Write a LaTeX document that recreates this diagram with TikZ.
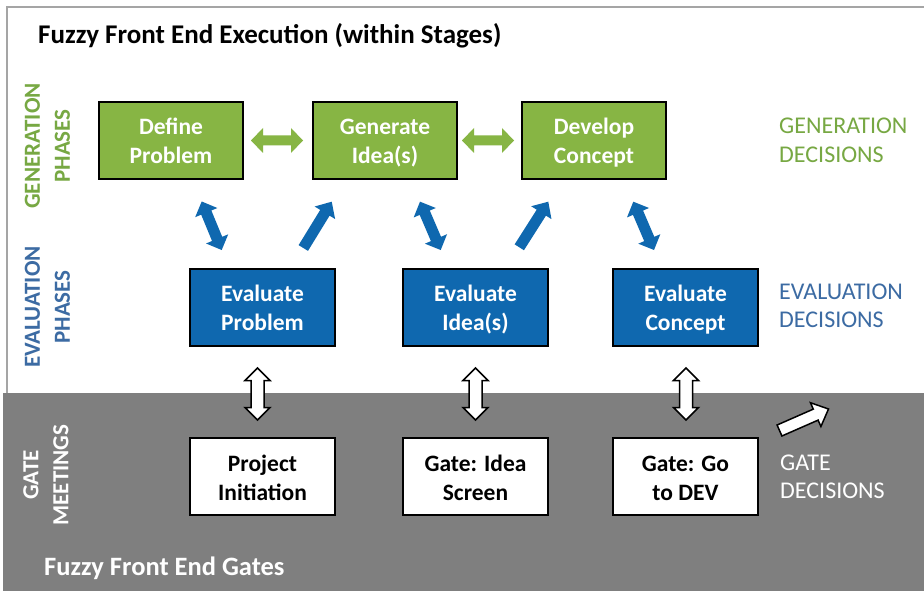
\documentclass[tikz,border=0pt]{standalone}
\usepackage{fontspec}
\setmainfont{Carlito}
\usetikzlibrary{calc}
\definecolor{gfill}{HTML}{87B544}
\definecolor{gtext}{HTML}{77A843}
\definecolor{bfill}{HTML}{0F68AF}
\definecolor{btext}{HTML}{3C6BA3}
\definecolor{gatebg}{HTML}{7F7F7F}
\definecolor{framec}{HTML}{A5A5A5}
\newcommand\myboxfont{\fontsize{23.5}{29}\selectfont\bfseries}
\newcommand\mysidefont{\fontsize{24}{28.5}\selectfont}
\newcommand\myleftfont{\fontsize{23}{30}\selectfont\bfseries}
% two lines of box text with fixed vertical extent
\newcommand\twol[2]{\rule{0pt}{24pt}#1\\#2\rule[-6pt]{0pt}{6pt}}
% double block arrow: style, A, B, head length, head half width, shaft half width
\newcommand\dblarr[6]{%
  \path ($(#2)!#4!(#3)$) coordinate (pa) ($(#3)!#4!(#2)$) coordinate (pb);
  \draw[#1] (#2) -- ($(pa)!#5!90:(#3)$) -- ($(pa)!#6!90:(#3)$) -- ($(pb)!#6!-90:(#2)$) -- ($(pb)!#5!-90:(#2)$) -- (#3) -- ($(pb)!#5!90:(#2)$) -- ($(pb)!#6!90:(#2)$) -- ($(pa)!#6!-90:(#3)$) -- ($(pa)!#5!-90:(#3)$) -- cycle;}
% single block arrow: style, tail, tip, head length, head half width, shaft half width
\newcommand\sglarr[6]{%
  \path ($(#3)!#4!(#2)$) coordinate (pb);
  \draw[#1] ($(#2)!#6!90:(#3)$) -- ($(pb)!#6!-90:(#2)$) -- ($(pb)!#5!-90:(#2)$) -- (#3) -- ($(pb)!#5!90:(#2)$) -- ($(pb)!#6!90:(#2)$) -- ($(#2)!#6!-90:(#3)$) -- cycle;}
\tikzset{
  box/.style={draw=black, line width=2pt, inner sep=0pt, align=center, font=\myboxfont, minimum height=77pt},
  gbox/.style={box, fill=gfill, text=white, minimum width=144pt},
  bbox/.style={box, fill=bfill, text=white, minimum width=145pt},
  wbox/.style={box, fill=white, text=black, minimum width=145pt},
  sidelabel/.style={anchor=west, inner sep=0pt, align=left, font=\mysidefont},
  leftlabel/.style={rotate=90, inner sep=0pt, align=center, font=\myleftfont},
  garrow/.style={draw=none, fill=gfill},
  barrow/.style={draw=none, fill=bfill},
  warrow/.style={draw=black, line width=1.5pt, fill=white, line join=miter}
}
\begin{document}
\begin{tikzpicture}[x=1pt, y=-1pt]
\useasboundingbox (0,0) rectangle (924,591);
\fill[white] (0,0) rectangle (924,591);
% frame and gate band
\fill[gatebg] (3,393) rectangle (924,591);
\draw[framec, line width=2pt] (924,7) -- (7,7) -- (7,393);

% titles
\node[anchor=base west, inner sep=0pt, font=\fontsize{27}{30}\selectfont\bfseries] (title) at (38,44) {Fuzzy Front End Execution (within Stages)};
\node[anchor=base west, inner sep=0pt, text=white, font=\fontsize{26.5}{30}\selectfont\bfseries] (gtitle) at (44,575.5) {Fuzzy Front End Gates};

% left labels
\node[leftlabel, text=gtext] (lgen) at (47.5,146) {GENERATION\\PHASES};
\node[leftlabel, text=btext] (leval) at (47.5,307) {EVALUATION\\PHASES};
\node[leftlabel, text=white] (lgate) at (46,475) {GATE\\MEETINGS};

% right labels
\node[sidelabel, text=gtext] (rgen) at (779,140.5) {GENERATION\\DECISIONS};
\node[sidelabel, text=btext] (reval) at (779,306) {EVALUATION\\DECISIONS};
\node[sidelabel, text=white] (rgate) at (780,477) {GATE\\DECISIONS};

% generation boxes
\node[gbox] (dp) at (171,140.5) {\twol{Define}{Problem}};
\node[gbox] (gi) at (385,140.5) {\twol{Generate}{Idea(s)}};
\node[gbox] (dc) at (594,140.5) {\twol{Develop}{Concept}};
% evaluation boxes
\node[bbox] (ep) at (262.5,307) {\twol{Evaluate}{Problem}};
\node[bbox] (ei) at (475.5,307) {\twol{Evaluate}{Idea(s)}};
\node[bbox] (ec) at (685.5,307) {\twol{Evaluate}{Concept}};
% gate boxes
\node[wbox] (pi) at (262.5,476.5) {\twol{Project}{Initiation}};
\node[wbox] (gs) at (475.5,476.5) {\twol{Gate: Idea}{Screen}};
\node[wbox] (gd) at (685.5,476.5) {\twol{Gate: Go}{to DEV}};

% arrow end points
\coordinate (g1a) at (251,140.5); \coordinate (g1b) at (303,140.5);
\coordinate (g2a) at (462,140.5); \coordinate (g2b) at (514,140.5);
\coordinate (d1a) at (201.7,201.5); \coordinate (d1b) at (221.7,250);
\coordinate (u1a) at (303.3,248); \coordinate (u1b) at (331.7,201.7);
\coordinate (d2a) at (420,201.7); \coordinate (d2b) at (440.7,250);
\coordinate (u2a) at (519.3,247.3); \coordinate (u2b) at (548.3,201.7);
\coordinate (d3a) at (633.3,201.7); \coordinate (d3b) at (654,250);
\coordinate (v1a) at (257.5,368); \coordinate (v1b) at (257.5,420);
\coordinate (v2a) at (475.5,368); \coordinate (v2b) at (475.5,420);
\coordinate (v3a) at (686,368); \coordinate (v3b) at (686,420);
\coordinate (ga) at (779.5,430.5); \coordinate (gb) at (828.5,409);

% green arrows
\dblarr{garrow}{g1a}{g1b}{12pt}{12.5pt}{5pt}
\dblarr{garrow}{g2a}{g2b}{12pt}{12.5pt}{5pt}
% blue arrows
\dblarr{barrow}{d1a}{d1b}{12pt}{12pt}{5.5pt}
\sglarr{barrow}{u1a}{u1b}{13pt}{12pt}{5.5pt}
\dblarr{barrow}{d2a}{d2b}{12pt}{12pt}{5.5pt}
\sglarr{barrow}{u2a}{u2b}{13pt}{12pt}{5.5pt}
\dblarr{barrow}{d3a}{d3b}{12pt}{12pt}{5.5pt}
% white arrows
\dblarr{warrow}{v1a}{v1b}{12.5pt}{12.5pt}{6.5pt}
\dblarr{warrow}{v2a}{v2b}{12.5pt}{12.5pt}{6.5pt}
\dblarr{warrow}{v3a}{v3b}{12.5pt}{12.5pt}{6.5pt}
\sglarr{warrow}{ga}{gb}{14pt}{13pt}{6pt}
\end{tikzpicture}
\end{document}
